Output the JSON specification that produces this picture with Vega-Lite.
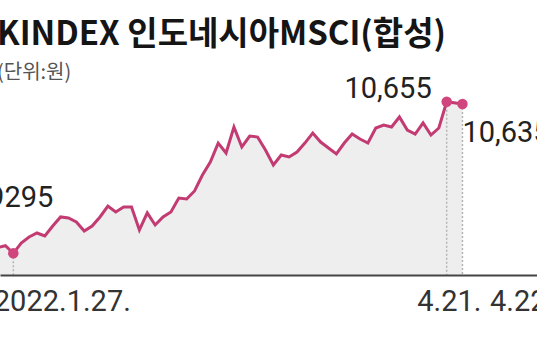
{
  "$schema": "https://vega.github.io/schema/vega-lite/v6.json",
  "width": 537,
  "height": 275,
  "autosize": {"type": "none"},
  "padding": {"left": 0, "top": 0, "right": 0, "bottom": 85},
  "background": "white",
  "config": {"view": {"stroke": null}},
  "title": {
    "text": "KINDEX 인도네시아MSCI(합성)",
    "subtitle": "(단위:원)",
    "anchor": "start",
    "frame": "group",
    "dx": -3,
    "dy": 87,
    "font": "Noto Sans CJK KR",
    "fontSize": 33,
    "fontWeight": "bold",
    "color": "#151515",
    "subtitleFont": "Noto Sans CJK KR",
    "subtitleFontSize": 20,
    "subtitleColor": "#555555",
    "subtitlePadding": 11
  },
  "datasets": {
    "series": [
      {"i": -2, "value": 9347},
      {"i": -1, "value": 9363},
      {"i": 0, "value": 9295},
      {"i": 1, "value": 9387},
      {"i": 2, "value": 9441},
      {"i": 3, "value": 9477},
      {"i": 4, "value": 9450},
      {"i": 5, "value": 9540},
      {"i": 6, "value": 9621},
      {"i": 7, "value": 9612},
      {"i": 8, "value": 9576},
      {"i": 9, "value": 9495},
      {"i": 10, "value": 9540},
      {"i": 11, "value": 9621},
      {"i": 12, "value": 9719},
      {"i": 13, "value": 9666},
      {"i": 14, "value": 9710},
      {"i": 15, "value": 9710},
      {"i": 16, "value": 9504},
      {"i": 17, "value": 9657},
      {"i": 18, "value": 9549},
      {"i": 19, "value": 9621},
      {"i": 20, "value": 9666},
      {"i": 21, "value": 9791},
      {"i": 22, "value": 9782},
      {"i": 23, "value": 9854},
      {"i": 24, "value": 9997},
      {"i": 25, "value": 10114},
      {"i": 26, "value": 10284},
      {"i": 27, "value": 10195},
      {"i": 28, "value": 10428},
      {"i": 29, "value": 10249},
      {"i": 30, "value": 10347},
      {"i": 31, "value": 10338},
      {"i": 32, "value": 10222},
      {"i": 33, "value": 10087},
      {"i": 34, "value": 10177},
      {"i": 35, "value": 10159},
      {"i": 36, "value": 10204},
      {"i": 37, "value": 10284},
      {"i": 38, "value": 10374},
      {"i": 39, "value": 10293},
      {"i": 40, "value": 10240},
      {"i": 41, "value": 10186},
      {"i": 42, "value": 10284},
      {"i": 43, "value": 10365},
      {"i": 44, "value": 10320},
      {"i": 45, "value": 10284},
      {"i": 46, "value": 10419},
      {"i": 47, "value": 10446},
      {"i": 48, "value": 10428},
      {"i": 49, "value": 10518},
      {"i": 50, "value": 10401},
      {"i": 51, "value": 10365},
      {"i": 52, "value": 10464},
      {"i": 53, "value": 10356},
      {"i": 54, "value": 10419},
      {"i": 55, "value": 10655},
      {"i": 57, "value": 10635}
    ],
    "marks": [
      {"i": 0, "value": 9295, "label": "9295", "date": "2022.1.27."},
      {"i": 55, "value": 10655, "label": "10,655", "date": "4.21."},
      {"i": 57, "value": 10635, "label": "10,635", "date": "4.22."}
    ]
  },
  "layer": [
    {
      "data": {"name": "series"},
      "mark": {"type": "area", "color": "#eeeeee", "clip": true},
      "encoding": {
        "x": {
          "field": "i", "type": "quantitative",
          "scale": {"domain": [-1.69, 66.46], "nice": false, "zero": false},
          "axis": {
            "values": [0, 55, 57],
            "labelExpr": "datum.value == 0 ? '2022.1.27.' : (datum.value == 55 ? '4.21.' : '4.22.')",
            "title": null,
            "grid": false,
            "ticks": false,
            "zindex": 1,
            "domainColor": "#444444",
            "domainWidth": 2,
            "labelFont": "Roboto",
            "labelFontSize": 29,
            "labelColor": "#333333",
            "labelAlign": "left",
            "labelPadding": 12,
            "labelOffset": {"condition": [{"test": "datum.value == 0", "value": -20}, {"test": "datum.value == 55", "value": -30}], "value": 27},
            "labelOverlap": false,
            "labelBound": false,
            "labelFlush": false
          }
        },
        "y": {
          "field": "value", "type": "quantitative",
          "scale": {"domain": [9100.3, 11567.4], "nice": false, "zero": false},
          "axis": null
        }
      }
    },
    {
      "data": {"name": "marks"},
      "mark": {"type": "rule", "color": "#b5b5b5", "strokeDash": [2, 2], "strokeWidth": 1.5},
      "encoding": {
        "x": {"field": "i", "type": "quantitative"},
        "y": {"field": "value", "type": "quantitative"},
        "y2": {"datum": 9100.3}
      }
    },
    {
      "data": {"name": "series"},
      "mark": {"type": "line", "color": "#c23b72", "strokeWidth": 3, "clip": true},
      "encoding": {
        "x": {"field": "i", "type": "quantitative"},
        "y": {"field": "value", "type": "quantitative"}
      }
    },
    {
      "data": {"name": "marks"},
      "mark": {"type": "point", "filled": true, "size": 110, "color": "#d0457d", "opacity": 1},
      "encoding": {
        "x": {"field": "i", "type": "quantitative"},
        "y": {"field": "value", "type": "quantitative"}
      }
    },
    {
      "data": {"name": "marks"},
      "transform": [{"filter": "datum.i == 0"}],
      "mark": {"type": "text", "align": "right", "baseline": "alphabetic", "dx": 40, "dy": -46, "font": "Roboto", "fontSize": 29, "color": "#222222"},
      "encoding": {
        "x": {"field": "i", "type": "quantitative"},
        "y": {"field": "value", "type": "quantitative"},
        "text": {"field": "label"}
      }
    },
    {
      "data": {"name": "marks"},
      "transform": [{"filter": "datum.i == 55"}],
      "mark": {"type": "text", "align": "right", "baseline": "alphabetic", "dx": -15, "dy": -4, "font": "Roboto", "fontSize": 29, "color": "#222222"},
      "encoding": {
        "x": {"field": "i", "type": "quantitative"},
        "y": {"field": "value", "type": "quantitative"},
        "text": {"field": "label"}
      }
    },
    {
      "data": {"name": "marks"},
      "transform": [{"filter": "datum.i == 57"}],
      "mark": {"type": "text", "align": "left", "baseline": "alphabetic", "dx": 0, "dy": 38, "font": "Roboto", "fontSize": 29, "color": "#222222"},
      "encoding": {
        "x": {"field": "i", "type": "quantitative"},
        "y": {"field": "value", "type": "quantitative"},
        "text": {"field": "label"}
      }
    }
  ]
}
